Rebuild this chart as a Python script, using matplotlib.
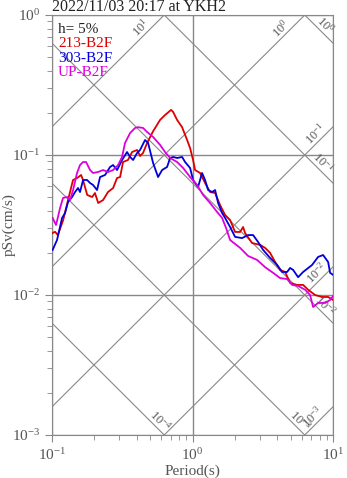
import numpy as np
import matplotlib
matplotlib.use('Agg')
import matplotlib.pyplot as plt

plt.rcParams['font.family'] = ['Liberation Serif', 'DejaVu Serif']
plt.rcParams['mathtext.fontset'] = 'custom'
plt.rcParams['mathtext.rm'] = 'Liberation Serif'
plt.rcParams['axes.unicode_minus'] = False

title = '2022/11/03 20:17 at YKH2'
damping = 'h= 5%'
names = ['213-B2F', '303-B2F', 'UP-B2F']
colors = ['#dd0000', '#0000dd', '#dd00dd']

# 213-B2F
t_213 = [0.101, 0.105, 0.110, 0.120, 0.130, 0.141, 0.151, 0.161, 0.166, 0.178,
         0.193, 0.202, 0.213, 0.231, 0.250, 0.272, 0.290, 0.305, 0.320, 0.347,
         0.371, 0.403, 0.423, 0.444, 0.475, 0.524, 0.587, 0.637, 0.703, 0.727,
         0.776, 0.842, 0.914, 0.960, 1.008, 1.042, 1.131, 1.227, 1.332, 1.446,
         1.569, 1.703, 1.849, 2.007, 2.179, 2.288, 2.364, 2.651, 3.023, 3.281,
         3.561, 3.866, 4.195, 4.555, 4.943, 5.543, 6.117, 6.640, 7.444, 8.350,
         9.214, 10.0]
sv_213 = [0.0277, 0.0283, 0.0268, 0.0343, 0.0477, 0.0663, 0.0685, 0.0720, 0.0663, 0.0518,
          0.0501, 0.0535, 0.0454, 0.0477, 0.0544, 0.0581, 0.0685, 0.0696, 0.0891, 0.0921,
          0.105, 0.1086, 0.0984, 0.1033, 0.122, 0.148, 0.178, 0.193, 0.210, 0.203,
          0.178, 0.158, 0.128, 0.112, 0.0921, 0.0781, 0.0744, 0.0631, 0.0544, 0.0535,
          0.0439, 0.0373, 0.0343, 0.0282, 0.0282, 0.0306, 0.0277, 0.0235, 0.0228, 0.0217,
          0.0200, 0.0172, 0.0151, 0.0146, 0.0122, 0.0118, 0.0118, 0.0109, 0.0100, 0.00968,
          0.00968, 0.00921]

# 303-B2F
t_303 = [0.101, 0.1085, 0.1178, 0.1237, 0.130, 0.1388, 0.1458, 0.1531, 0.1582, 0.1662,
         0.1775, 0.1864, 0.1957, 0.209, 0.2196, 0.2384, 0.2587, 0.2718, 0.2902, 0.3149,
         0.3418, 0.3593, 0.3773, 0.4027, 0.4229, 0.459, 0.4824, 0.5236, 0.568, 0.6068,
         0.6585, 0.692, 0.7266, 0.776, 0.8422, 0.8843, 0.9599, 1.008, 1.094, 1.168,
         1.227, 1.290, 1.377, 1.446, 1.519, 1.622, 1.703, 1.849, 2.007, 2.251,
         2.483, 2.695, 2.926, 3.175, 3.561, 3.995, 4.335, 4.706, 4.943, 5.193,
         5.635, 6.117, 7.089, 7.819, 8.487, 9.214, 9.52, 10.0]
sv_303 = [0.0210, 0.0247, 0.0355, 0.0385, 0.0462, 0.0501, 0.0544, 0.0581, 0.0544, 0.0663,
          0.0663, 0.0631, 0.0611, 0.0562, 0.0696, 0.0720, 0.0821, 0.0848, 0.0781, 0.0921,
          0.105, 0.0968, 0.0921, 0.1033, 0.1086, 0.128, 0.122, 0.0877, 0.0696, 0.0781,
          0.0821, 0.0952, 0.0968, 0.0952, 0.0968, 0.0891, 0.0808, 0.0663, 0.0591, 0.0744,
          0.0663, 0.0562, 0.0544, 0.0562, 0.0454, 0.0385, 0.0355, 0.0306, 0.0260, 0.0255,
          0.0268, 0.0268, 0.0239, 0.0210, 0.0184, 0.0164, 0.0146, 0.0146, 0.0156, 0.0151,
          0.0134, 0.0146, 0.0164, 0.0187, 0.0193, 0.0172, 0.0144, 0.0139]

# UP-B2F
t_up = [0.101, 0.1068, 0.114, 0.1197, 0.1279, 0.1343, 0.1411, 0.1506, 0.1582, 0.1662,
        0.1746, 0.1864, 0.1957, 0.2125, 0.2307, 0.2504, 0.2718, 0.295, 0.3149, 0.3307,
        0.3593, 0.3896, 0.4093, 0.4443, 0.4745, 0.5236, 0.5873, 0.6374, 0.692, 0.776,
        0.8561, 0.9599, 1.077, 1.188, 1.332, 1.494, 1.622, 1.731, 1.849, 2.179,
        2.483, 2.878, 3.281, 3.741, 4.195, 4.706, 5.108, 5.635, 6.321, 6.860,
        7.203, 7.819, 8.770, 9.52, 10.0]
sv_up = [0.0355, 0.0316, 0.0418, 0.0493, 0.0501, 0.0477, 0.0562, 0.0744, 0.0848, 0.0891,
         0.0891, 0.0781, 0.0744, 0.0756, 0.0781, 0.0756, 0.0781, 0.0848, 0.0968, 0.122,
         0.1436, 0.156, 0.158, 0.156, 0.146, 0.1345, 0.118, 0.105, 0.0952, 0.0891,
         0.0808, 0.0696, 0.0611, 0.0518, 0.0454, 0.0392, 0.0355, 0.0301, 0.0247, 0.0217,
         0.0190, 0.0178, 0.0158, 0.0144, 0.0132, 0.0130, 0.0118, 0.0116, 0.0109, 0.0100,
         0.00821, 0.00877, 0.00877, 0.00921, 0.00984]

# tripartite grid: acceleration (gal) and displacement (cm)
acc_levels = [1e1, 1e0, 1e-1, 1e-2, 1e-3]
acc_label_t = [0.467, 4.63, 8.2, 8.35, 7.8]
disp_levels = [1e0, 1e-1, 1e-2, 1e-3, 1e-4]
disp_label_t = [8.08, 7.8, 8.08, 5.36, 0.541]

gray = '#888888'
txt_gray = '#555555'

fig = plt.figure(figsize=(3.47, 4.78), dpi=100)
ax = fig.add_axes([0.150, 0.090, 0.810, 0.8786])
ax.set_xscale('log')
ax.set_yscale('log')

tt = np.logspace(-1.2, 1.2, 100)
w = 2 * np.pi
for a, tl in zip(acc_levels, acc_label_t):
    ax.plot(tt, a * tt / w, color=gray, lw=0.8, zorder=1)
    lab = r'$\mathdefault{10^{%d}}$' % round(np.log10(a))
    ax.text(tl, a * tl / w, lab, rotation=45, rotation_mode='anchor',
            ha='center', va='bottom', fontsize=9, color=txt_gray, zorder=2)
for d, tl in zip(disp_levels, disp_label_t):
    ax.plot(tt, w * d / tt, color=gray, lw=0.8, zorder=1)
    lab = r'$\mathdefault{10^{%d}}$' % round(np.log10(d))
    ax.text(tl, w * d / tl, lab, rotation=-45, rotation_mode='anchor',
            ha='center', va='bottom', fontsize=9, color=txt_gray, zorder=2)

ax.grid(True, which='major', color=gray, lw=1.0, zorder=1)

for t, sv, c in zip([t_213, t_303, t_up], [sv_213, sv_303, sv_up], colors):
    ax.plot(t, sv, color=c, lw=1.3, zorder=3)

ax.set_xlim(0.1, 10)
ax.set_ylim(1e-3, 1)

for s in ax.spines.values():
    s.set_color(gray)
ax.tick_params(which='both', colors=gray, labelcolor=txt_gray, labelsize=11)
ax.tick_params(which='major', length=5)
ax.tick_params(which='minor', length=3.5)

ax.set_xlabel('Period(s)', fontsize=11, color=txt_gray, labelpad=1)
ax.set_ylabel('pSv(cm/s)', fontsize=11, color=txt_gray)
ax.yaxis.set_label_coords(-0.128, 0.5)
ax.set_title(title, loc='left', fontsize=11.5, color='#222222', pad=2)

ax.text(0.021, 0.966, damping, transform=ax.transAxes, fontsize=11,
        color='#222222', va='center', ha='left', zorder=4)
for i, (n, c) in enumerate(zip(names, colors)):
    ax.text(0.021, 0.931 - 0.0335 * i, n, transform=ax.transAxes, fontsize=11,
            color=c, va='center', ha='left', zorder=4)

fig.savefig('out.png', dpi=100)
